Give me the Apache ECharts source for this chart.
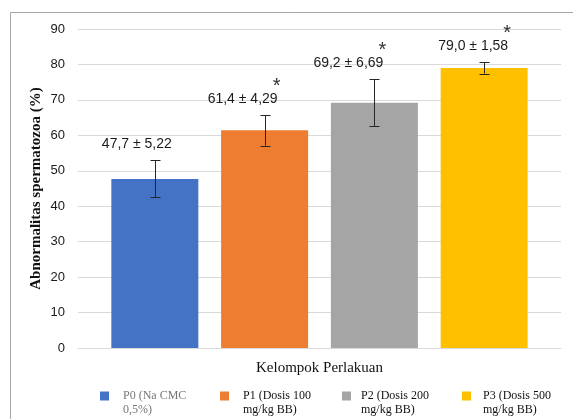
<!DOCTYPE html>
<html>
<head>
<meta charset="utf-8">
<script src="https://cdn.jsdelivr.net/npm/echarts@6/dist/echarts.min.js"></script>
<style>html,body{margin:0;padding:0;background:#fff}#c{width:573px;height:419px}</style>
</head>
<body>
<div id="c"></div>
<script>
// ---- data ----
var categories = ['P0', 'P1', 'P2', 'P3'];
var legendNames = ['P0 (Na CMC\n0,5%)', 'P1 (Dosis 100\nmg/kg BB)', 'P2 (Dosis 200\nmg/kg BB)', 'P3 (Dosis 500\nmg/kg BB)'];
var means = [47.7, 61.4, 69.2, 79.0];
var sds = [5.22, 4.29, 6.69, 1.58];
var significant = [false, true, true, true];
var yTicks = [0, 10, 20, 30, 40, 50, 60, 70, 80, 90];
// ---- style ----
var colors = ['#4472C4', '#ED7D31', '#A5A5A5', '#FFC000'];
var labelShift = [-18, -22, -26, -11];
var legendLeft = [100, 220, 342, 462];
var legendTextPad = [9, 9, 5, 7];
var legendTextColor = ['#777777', '#111111', '#111111', '#111111'];

function fmt(v, d) { return v.toFixed(d).replace('.', ','); }

var chart = echarts.init(document.getElementById('c'));
var series = categories.map(function (c, i) {
  return {
    type: 'bar',
    name: legendNames[i],
    data: [[i, means[i]]],
    barWidth: 87,
    barGap: '-100%',
    itemStyle: { color: colors[i] },
    silent: true
  };
});
series.push({
  type: 'custom',
  silent: true,
  z: 10,
  data: categories.map(function (c, i) { return [i, means[i], sds[i], significant[i] ? 1 : 0]; }),
  renderItem: function (params, api) {
    var i = api.value(0);
    var m = api.value(1), s = api.value(2);
    var top = api.coord([i, m + s]);
    var bot = api.coord([i, m - s]);
    var x = Math.round(top[0]) + 0.5;
    var cap = 5;
    var lineStyle = { stroke: '#262626', lineWidth: 1 };
    var children = [
      { type: 'line', shape: { x1: x, y1: top[1], x2: x, y2: bot[1] }, style: lineStyle },
      { type: 'line', shape: { x1: x - cap, y1: Math.round(top[1]) + 0.5, x2: x + cap, y2: Math.round(top[1]) + 0.5 }, style: lineStyle },
      { type: 'line', shape: { x1: x - cap, y1: Math.round(bot[1]) + 0.5, x2: x + cap, y2: Math.round(bot[1]) + 0.5 }, style: lineStyle }
    ];
    var lx = top[0] + labelShift[params.dataIndex];
    var ly = top[1] - 16;
    children.push({
      type: 'text',
      style: {
        x: lx, y: ly, text: fmt(m, 1) + ' \u00b1 ' + fmt(s, 2),
        align: 'center', verticalAlign: 'middle',
        font: '14px "Liberation Sans", Arial, sans-serif', fill: '#1a1a1a'
      }
    });
    if (api.value(3)) {
      children.push({
        type: 'text',
        style: {
          x: lx + 34, y: ly - 13, text: '*',
          align: 'center', verticalAlign: 'middle',
          font: '20px "Liberation Sans", Arial, sans-serif', fill: '#333333'
        }
      });
    }
    return { type: 'group', children: children };
  }
});

var legends = categories.map(function (c, i) {
  return {
    left: legendLeft[i], top: 375,
    padding: 0,
    data: [{ name: legendNames[i], icon: 'rect' }],
    itemWidth: 9, itemHeight: 9,
    selectedMode: false,
    formatter: function (name) { return ' \n' + name; },
    textStyle: {
      fontFamily: '"Liberation Serif", "Times New Roman", serif',
      fontSize: 12, lineHeight: 14, color: legendTextColor[i],
      padding: [0, 0, 0, legendTextPad[i]]
    }
  };
});

chart.setOption({
  animation: false,
  backgroundColor: '#ffffff',
  grid: { left: 78, right: 12, top: 29, bottom: 71, containLabel: false, outerBoundsMode: 'none' },
  legend: legends,
  xAxis: {
    type: 'value',
    min: -0.7, max: 3.7,
    name: 'Kelompok Perlakuan',
    nameLocation: 'middle',
    nameGap: 13,
    nameMoveOverlap: false,
    nameTextStyle: { fontFamily: '"Liberation Serif", "Times New Roman", serif', fontSize: 15, color: '#111', verticalAlign: 'top' },
    axisLine: { show: true, lineStyle: { color: '#d9d9d9' } },
    axisTick: { show: false },
    axisLabel: { show: false },
    splitLine: { show: false }
  },
  yAxis: {
    type: 'value',
    min: yTicks[0], max: yTicks[yTicks.length - 1], interval: yTicks[1] - yTicks[0],
    name: 'Abnormalitas spermatozoa (%)',
    nameLocation: 'middle',
    nameGap: 34,
    nameMoveOverlap: false,
    nameTextStyle: { fontFamily: '"Liberation Serif", "Times New Roman", serif', fontSize: 15, fontWeight: 'bold', color: '#111' },
    axisLine: { show: false },
    axisTick: { show: false },
    axisLabel: { margin: 13, fontFamily: '"Liberation Sans", Arial, sans-serif', fontSize: 13, color: '#1a1a1a' },
    splitLine: { lineStyle: { color: '#d9d9d9' } }
  },
  graphic: [{
    type: 'rect', silent: true, z: -1,
    shape: { x: 10.5, y: 12.5, width: 700, height: 600 },
    style: { fill: null, stroke: '#a6a6a6', lineWidth: 1 }
  }],
  series: series
});
</script>
</body>
</html>
